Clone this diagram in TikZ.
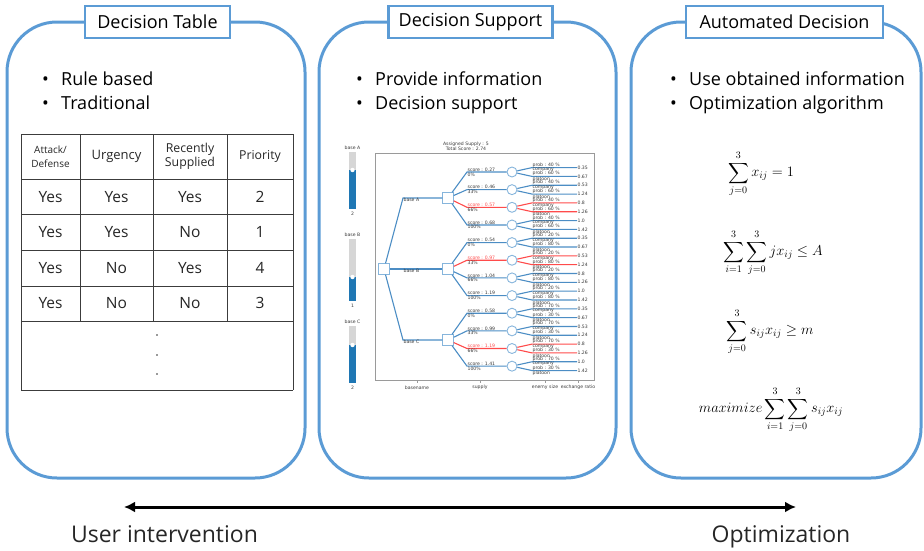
\documentclass[tikz,border=0pt]{standalone}
\usepackage{amsmath}
\usepackage{exscale}
\usepackage[no-math]{fontspec}
\setmainfont{Open Sans}
\newfontfamily\plotfont{DejaVu Sans}
\usetikzlibrary{arrows.meta}

\definecolor{panelblue}{HTML}{5B9BD5}
\definecolor{treeblue}{HTML}{4C8DC4}
\definecolor{nodeblue}{HTML}{86B5DC}
\definecolor{pickred}{HTML}{FF4B4B}
\definecolor{slideblue}{HTML}{1F77B4}
\definecolor{slidegray}{HTML}{D6D6D6}
\definecolor{framegray}{HTML}{9A9A9A}
\definecolor{tabgray}{HTML}{3C3C3C}
\definecolor{plotink}{HTML}{3A3A3A}

\tikzset{
    panel/.style={draw=panelblue, line width=3pt, rounded corners=50pt},
    headbox/.style={draw=panelblue, line width=2.5pt, fill=white, minimum width=#1,
        minimum height=32pt, inner sep=0pt, font=\fontsize{18}{20}\selectfont},
    bullet/.style={anchor=base west, inner sep=0pt, font=\fontsize{18}{24}\selectfont},
    tabline/.style={draw=tabgray, line width=0.9pt},
    cell/.style={inner sep=0pt, align=center, font=\fontsize{15.5}{18}\selectfont, text=black!85},
    headcell/.style={inner sep=0pt, align=center, font=\fontsize{#1}{14}\selectfont, text=black!85},
    plottext/.style={inner sep=0.4pt, text=plotink, font=\plotfont\fontsize{4.6}{5.4}\selectfont},
    branch/.style={draw=treeblue, line width=1.1pt},
    ring/.style={circle, draw=nodeblue, fill=white, minimum size=10pt, inner sep=0pt, line width=0.9pt},
    sq/.style={rectangle, draw=nodeblue, fill=white, minimum size=10.5pt, inner sep=0pt, line width=0.9pt},
    formula/.style={inner sep=0pt, font=\fontsize{14}{17}\selectfont},
    bottomtext/.style={anchor=base, inner sep=0pt, font=\fontsize{23}{26}\selectfont, text=black!85}
}

\begin{document}
\begin{tikzpicture}[x=1pt, y=-1pt]
    \useasboundingbox (0,0) rectangle (924,550);

    % three panels
    \draw[panel] (7,22) rectangle (305,478);
    \draw[panel] (319,22) rectangle (616,478);
    \draw[panel] (631,22) rectangle (921,478);

    \node[headbox=145pt] (dtab) at (157.5,22) {Decision Table};
    \node[headbox=164pt] (dsup) at (470.5,22) {Decision Support};
    \node[headbox=197pt] (adec) at (784.5,22) {Automated Decision};

    % bullet lists
    \node[bullet] (rule) at (42,85) {\makebox[19pt][l]{\textbullet}Rule based};
    \node[bullet] (trad) at (42,109) {\makebox[19pt][l]{\textbullet}Traditional};
    \node[bullet] (prov) at (356,85) {\makebox[19pt][l]{\textbullet}Provide information};
    \node[bullet] (dsp) at (356,109) {\makebox[19pt][l]{\textbullet}Decision support};
    \node[bullet] (useo) at (670,85) {\makebox[19pt][l]{\textbullet}Use obtained information};
    \node[bullet] (opta) at (670,109) {\makebox[19pt][l]{\textbullet}Optimization algorithm};

    % decision table
    \foreach \y in {134,179,214,250,286,321,390} {
        \draw[tabline] (21,\y) -- (293,\y);
    }
    \draw[tabline] (21,134) -- (21,390);
    \draw[tabline] (293,134) -- (293,390);
    \foreach \x in {80,153,227} {
        \draw[tabline] (\x,134) -- (\x,321);
    }

    \node[headcell=10] (hatt) at (50.5,156.5) {Attack/\\Defense};
    \node[headcell=13] (hurg) at (116.5,156.5) {Urgency};
    \node[headcell=12.3] (hrec) at (190,156.5) {Recently\\Supplied};
    \node[headcell=12.3] (hpri) at (260,156.5) {Priority};

    \foreach \a/\b/\c/\p [count=\r] in {Yes/Yes/Yes/2, Yes/Yes/No/1, Yes/No/Yes/4, Yes/No/No/3} {
        \pgfmathsetmacro\yr{161+35.6*\r}
        \node[cell] (ta\r) at (50.5,\yr) {\a};
        \node[cell] (tb\r) at (116.5,\yr) {\b};
        \node[cell] (tc\r) at (190,\yr) {\c};
        \node[cell] (tp\r) at (260,\yr) {\p};
    }
    \foreach \y in {335,355,374} {
        \fill[black!80] (157,\y) circle (0.9pt);
    }

    % decision support chart: sliders
    \foreach \nm/\ya/\yb/\lvl/\val in {A/152/209/170/2, B/239/301/277/1, C/326/383/345/2} {
        \node[plottext] (sl\nm) at (352.5,\ya-4.5) {base \nm};
        \fill[slidegray] (349,\ya) rectangle (356,\yb);
        \fill[slideblue] (349,\lvl) rectangle (356,\yb);
        \fill[white] (352.5,\lvl) circle (2.2pt);
        \node[plottext] (sv\nm) at (352.5,\yb+5) {\val};
    }

    % chart frame, title and axis
    \draw[framegray, line width=0.6pt] (375,153) rectangle (594,380);
    \node[plottext, align=center] (ptitle) at (466,146) {Assigned Supply : 5\\Total Score : 2.74};
    \foreach \x/\lab/\nm in {417/basename/ax1, 480/supply/ax2, 545/enemy size/ax3, 578/exchange ratio/ax4} {
        \draw[framegray, line width=0.5pt] (\x,380) -- (\x,382.5);
        \node[plottext] (\nm) at (\x,387.5) {\lab};
    }

    % tree
    \node[sq] (root) at (384,269) {};
    \foreach \nm/\y in {A/198, B/269, C/340} {
        \coordinate (k\nm) at (403,\y);
        \node[sq] (b\nm) at (448,\y) {};
        \draw[branch] (root) -- (k\nm) -- (b\nm);
        \node[plottext, anchor=north west] (l\nm) at (403,\y-0.8) {base \nm};
    }

    \foreach \k/\nm/\sc/\pc/\col/\tc/\pa/\pb/\la/\lb in {
        0/A/0.27/0/treeblue/plotink/40/60/0.35/0.67,
        1/A/0.46/33/treeblue/plotink/40/60/0.53/1.24,
        2/A/0.57/66/pickred/pickred/40/60/0.8/1.26,
        3/A/0.68/100/treeblue/plotink/40/60/1.0/1.42,
        4/B/0.54/0/treeblue/plotink/20/80/0.35/0.67,
        5/B/0.97/33/pickred/pickred/20/80/0.53/1.24,
        6/B/1.04/66/treeblue/plotink/20/80/0.8/1.26,
        7/B/1.19/100/treeblue/plotink/20/80/1.0/1.42,
        8/C/0.58/0/treeblue/plotink/70/30/0.35/0.67,
        9/C/0.99/33/treeblue/plotink/70/30/0.53/1.24,
        10/C/1.19/66/pickred/pickred/70/30/0.8/1.26,
        11/C/1.41/100/treeblue/plotink/70/30/1.0/1.42} {
        \pgfmathsetmacro\yc{172+17.65*\k}
        \coordinate (s\k) at (467,\yc);
        \node[ring] (c\k) at (512,\yc) {};
        \draw[branch, draw=\col] (b\nm) -- (s\k) -- (c\k);
        \node[plottext, anchor=south west, text=\tc] (sc\k) at (467,\yc) {score : \sc};
        \node[plottext, anchor=north west] (pc\k) at (467,\yc) {\pc\%};
        % leaves
        \coordinate (ma\k) at (532,\yc-4.4);
        \coordinate (ea\k) at (577,\yc-4.4);
        \coordinate (mb\k) at (532,\yc+4.4);
        \coordinate (eb\k) at (577,\yc+4.4);
        \draw[branch, draw=\col] (c\k) -- (ma\k) -- (ea\k);
        \draw[branch, draw=\col] (c\k) -- (mb\k) -- (eb\k);
        \node[plottext, anchor=south west] (pa\k) at (ma\k) {prob : \pa\ \%};
        \node[plottext, anchor=north west] (ca\k) at (ma\k) {company};
        \node[plottext, anchor=south west] (pb\k) at (mb\k) {prob : \pb\ \%};
        \node[plottext, anchor=north west] (cb\k) at (mb\k) {platoon};
        \node[plottext, anchor=west] (va\k) at (ea\k) {\la};
        \node[plottext, anchor=west] (vb\k) at (eb\k) {\lb};
    }

    % optimization model
    \node[formula] (f1) at (761,174) {$\displaystyle\sum_{j=0}^{3} x_{ij} = 1$};
    \node[formula] (f2) at (773,253) {$\displaystyle\sum_{i=1}^{3}\sum_{j=0}^{3} j x_{ij} \leq A$};
    \node[formula] (f3) at (770,332) {$\displaystyle\sum_{j=0}^{3} s_{ij} x_{ij} \geq m$};
    \node[formula] (f4) at (771,410) {$\displaystyle maximize \sum_{i=1}^{3}\sum_{j=0}^{3} s_{ij} x_{ij}$};

    % user intervention vs optimization
    \coordinate (ui) at (124,507);
    \coordinate (op) at (796,507);
    \draw[{Latex[length=11pt,width=11pt]}-{Latex[length=11pt,width=11pt]}, line width=3pt] (ui) -- (op);
    \node[bottomtext] (uitext) at (164.5,542) {User intervention};
    \node[bottomtext] (optext) at (781,542) {Optimization};
\end{tikzpicture}
\end{document}
